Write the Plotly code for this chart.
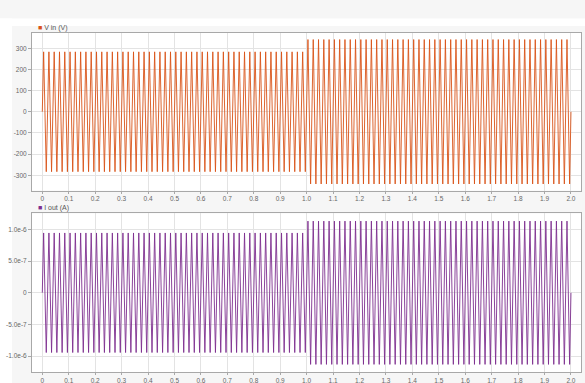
import plotly.graph_objects as go
from plotly.subplots import make_subplots

# sample times (s)
t = [0,
     0.005, 0.015, 0.025, 0.035, 0.045, 0.055, 0.065, 0.075, 0.085, 0.095,
     0.105, 0.115, 0.125, 0.135, 0.145, 0.155, 0.165, 0.175, 0.185, 0.195,
     0.205, 0.215, 0.225, 0.235, 0.245, 0.255, 0.265, 0.275, 0.285, 0.295,
     0.305, 0.315, 0.325, 0.335, 0.345, 0.355, 0.365, 0.375, 0.385, 0.395,
     0.405, 0.415, 0.425, 0.435, 0.445, 0.455, 0.465, 0.475, 0.485, 0.495,
     0.505, 0.515, 0.525, 0.535, 0.545, 0.555, 0.565, 0.575, 0.585, 0.595,
     0.605, 0.615, 0.625, 0.635, 0.645, 0.655, 0.665, 0.675, 0.685, 0.695,
     0.705, 0.715, 0.725, 0.735, 0.745, 0.755, 0.765, 0.775, 0.785, 0.795,
     0.805, 0.815, 0.825, 0.835, 0.845, 0.855, 0.865, 0.875, 0.885, 0.895,
     0.905, 0.915, 0.925, 0.935, 0.945, 0.955, 0.965, 0.975, 0.985, 0.995,
     1.005, 1.015, 1.025, 1.035, 1.045, 1.055, 1.065, 1.075, 1.085, 1.095,
     1.105, 1.115, 1.125, 1.135, 1.145, 1.155, 1.165, 1.175, 1.185, 1.195,
     1.205, 1.215, 1.225, 1.235, 1.245, 1.255, 1.265, 1.275, 1.285, 1.295,
     1.305, 1.315, 1.325, 1.335, 1.345, 1.355, 1.365, 1.375, 1.385, 1.395,
     1.405, 1.415, 1.425, 1.435, 1.445, 1.455, 1.465, 1.475, 1.485, 1.495,
     1.505, 1.515, 1.525, 1.535, 1.545, 1.555, 1.565, 1.575, 1.585, 1.595,
     1.605, 1.615, 1.625, 1.635, 1.645, 1.655, 1.665, 1.675, 1.685, 1.695,
     1.705, 1.715, 1.725, 1.735, 1.745, 1.755, 1.765, 1.775, 1.785, 1.795,
     1.805, 1.815, 1.825, 1.835, 1.845, 1.855, 1.865, 1.875, 1.885, 1.895,
     1.905, 1.915, 1.925, 1.935, 1.945, 1.955, 1.965, 1.975, 1.985, 1.995,
     2.0]

# V in (V)
v_in = [0,
        283, -283, 283, -283, 283, -283, 283, -283, 283, -283,
        283, -283, 283, -283, 283, -283, 283, -283, 283, -283,
        283, -283, 283, -283, 283, -283, 283, -283, 283, -283,
        283, -283, 283, -283, 283, -283, 283, -283, 283, -283,
        283, -283, 283, -283, 283, -283, 283, -283, 283, -283,
        283, -283, 283, -283, 283, -283, 283, -283, 283, -283,
        283, -283, 283, -283, 283, -283, 283, -283, 283, -283,
        283, -283, 283, -283, 283, -283, 283, -283, 283, -283,
        283, -283, 283, -283, 283, -283, 283, -283, 283, -283,
        283, -283, 283, -283, 283, -283, 283, -283, 283, -283,
        341, -341, 341, -341, 341, -341, 341, -341, 341, -341,
        341, -341, 341, -341, 341, -341, 341, -341, 341, -341,
        341, -341, 341, -341, 341, -341, 341, -341, 341, -341,
        341, -341, 341, -341, 341, -341, 341, -341, 341, -341,
        341, -341, 341, -341, 341, -341, 341, -341, 341, -341,
        341, -341, 341, -341, 341, -341, 341, -341, 341, -341,
        341, -341, 341, -341, 341, -341, 341, -341, 341, -341,
        341, -341, 341, -341, 341, -341, 341, -341, 341, -341,
        341, -341, 341, -341, 341, -341, 341, -341, 341, -341,
        341, -341, 341, -341, 341, -341, 341, -341, 341, -341,
        0]

# I out (A)
A1, A2 = 9.43e-7, 1.13e-6
i_out = [0,
         A1, -A1, A1, -A1, A1, -A1, A1, -A1, A1, -A1,
         A1, -A1, A1, -A1, A1, -A1, A1, -A1, A1, -A1,
         A1, -A1, A1, -A1, A1, -A1, A1, -A1, A1, -A1,
         A1, -A1, A1, -A1, A1, -A1, A1, -A1, A1, -A1,
         A1, -A1, A1, -A1, A1, -A1, A1, -A1, A1, -A1,
         A1, -A1, A1, -A1, A1, -A1, A1, -A1, A1, -A1,
         A1, -A1, A1, -A1, A1, -A1, A1, -A1, A1, -A1,
         A1, -A1, A1, -A1, A1, -A1, A1, -A1, A1, -A1,
         A1, -A1, A1, -A1, A1, -A1, A1, -A1, A1, -A1,
         A1, -A1, A1, -A1, A1, -A1, A1, -A1, A1, -A1,
         A2, -A2, A2, -A2, A2, -A2, A2, -A2, A2, -A2,
         A2, -A2, A2, -A2, A2, -A2, A2, -A2, A2, -A2,
         A2, -A2, A2, -A2, A2, -A2, A2, -A2, A2, -A2,
         A2, -A2, A2, -A2, A2, -A2, A2, -A2, A2, -A2,
         A2, -A2, A2, -A2, A2, -A2, A2, -A2, A2, -A2,
         A2, -A2, A2, -A2, A2, -A2, A2, -A2, A2, -A2,
         A2, -A2, A2, -A2, A2, -A2, A2, -A2, A2, -A2,
         A2, -A2, A2, -A2, A2, -A2, A2, -A2, A2, -A2,
         A2, -A2, A2, -A2, A2, -A2, A2, -A2, A2, -A2,
         A2, -A2, A2, -A2, A2, -A2, A2, -A2, A2, -A2,
         0]

x_tickvals = [0, 0.1, 0.2, 0.3, 0.4, 0.5, 0.6, 0.7, 0.8, 0.9, 1.0,
              1.1, 1.2, 1.3, 1.4, 1.5, 1.6, 1.7, 1.8, 1.9, 2.0]
x_ticktext = ["0", "0.1", "0.2", "0.3", "0.4", "0.5", "0.6", "0.7", "0.8", "0.9", "1.0",
              "1.1", "1.2", "1.3", "1.4", "1.5", "1.6", "1.7", "1.8", "1.9", "2.0"]
v_tickvals = [-300, -200, -100, 0, 100, 200, 300]
v_ticktext = ["-300", "-200", "-100", "0", "100", "200", "300"]
i_tickvals = [-1e-6, -5e-7, 0, 5e-7, 1e-6]
i_ticktext = ["-1.0e-6", "-5.0e-7", "0", "5.0e-7", "1.0e-6"]

C_V = "#d95319"
C_I = "#7e2f8e"
W, H = 585, 383
ML, MR, MT, MB = 32, 4, 33, 11

fig = make_subplots(rows=2, cols=1, vertical_spacing=0.0676)
fig.add_trace(go.Scatter(x=t, y=v_in, mode="lines", line=dict(color=C_V, width=0.9),
                         showlegend=False, name="V in (V)"), row=1, col=1)
fig.add_trace(go.Scatter(x=t, y=i_out, mode="lines", line=dict(color=C_I, width=0.9),
                         showlegend=False, name="I out (A)"), row=2, col=1)

axis_common = dict(showgrid=True, gridcolor="#e3e3e3", gridwidth=1,
                   showline=True, linecolor="#a8a8a8", linewidth=1, mirror=True,
                   ticks="outside", tickcolor="#a8a8a8",
                   tickfont=dict(family="Liberation Sans, Arial", size=6.5, color="#666666"),
                   zeroline=False, automargin=False)

fig.update_xaxes(range=[-0.039, 2.038], tickvals=x_tickvals, ticktext=x_ticktext,
                 ticklen=2, **axis_common)
fig.update_yaxes(ticklen=3, **axis_common)
fig.update_yaxes(range=[-372, 372], tickvals=v_tickvals, ticktext=v_ticktext, row=1, col=1)
fig.update_yaxes(range=[-1.25e-6, 1.25e-6], tickvals=i_tickvals, ticktext=i_ticktext, row=2, col=1)

fig.update_layout(xaxis=dict(domain=[0, 1]), yaxis=dict(domain=[0.5353, 1]),
                  yaxis2=dict(domain=[0, 0.4676]))

# white strips at top and left of the gray panel
pw = W - ML - MR
ph = H - MT - MB
fig.add_shape(type="rect", xref="paper", yref="paper", layer="below",
              x0=-ML / pw - 0.01, x1=(12 - ML) / pw,
              y0=-MB / ph - 0.01, y1=(H - MT) / ph + 0.01,
              fillcolor="white", line=dict(width=0))
fig.add_shape(type="rect", xref="paper", yref="paper", layer="below",
              x0=-ML / pw - 0.01, x1=(W - ML) / pw + 0.01,
              y0=(H - MT - 4) / ph, y1=(H - MT) / ph + 0.01,
              fillcolor="white", line=dict(width=0))

lab_font = dict(family="Liberation Sans, Arial", size=7, color="#555555")
fig.add_annotation(xref="paper", yref="paper", x=(36 - ML) / pw, y=1 + 5 / ph,
                   xanchor="left", yanchor="middle", showarrow=False,
                   text=f'<span style="color:{C_V}">■</span> V in (V)', font=lab_font)
fig.add_annotation(xref="paper", yref="paper", x=(36 - ML) / pw, y=0.4676 + 5 / ph,
                   xanchor="left", yanchor="middle", showarrow=False,
                   text=f'<span style="color:{C_I}">■</span> I out (A)', font=lab_font)

fig.update_layout(width=W, height=H, margin=dict(l=ML, r=MR, t=MT, b=MB),
                  paper_bgcolor="#f6f6f6", plot_bgcolor="white", showlegend=False)

fig.write_html("out.html", config={"displayModeBar": False},
               post_script="document.body.style.margin='0';document.body.style.overflow='hidden';")
